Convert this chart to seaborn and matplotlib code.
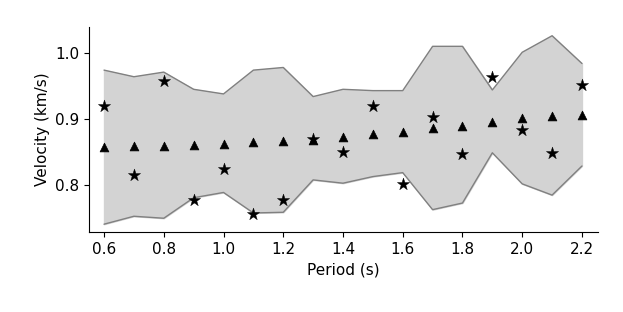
import numpy as np
import pandas as pd
import matplotlib
matplotlib.use("Agg")
import matplotlib.pyplot as plt
import seaborn as sns

period = [0.6, 0.7, 0.8, 0.9, 1.0, 1.1, 1.2, 1.3, 1.4, 1.5, 1.6, 1.7, 1.8, 1.9, 2.0, 2.1, 2.2]
upper = [0.974, 0.964, 0.971, 0.945, 0.938, 0.974, 0.978, 0.934, 0.945, 0.943, 0.943,
         1.010, 1.010, 0.944, 1.001, 1.026, 0.984]
lower = [0.741, 0.753, 0.750, 0.781, 0.789, 0.758, 0.759, 0.808, 0.803, 0.813, 0.819,
         0.763, 0.773, 0.849, 0.802, 0.785, 0.829]
mean_vel = [0.857, 0.859, 0.860, 0.861, 0.863, 0.865, 0.867, 0.869, 0.873, 0.877, 0.881,
            0.886, 0.890, 0.896, 0.901, 0.905, 0.906]
observed = [0.920, 0.815, 0.957, 0.778, 0.825, 0.756, 0.777, 0.870, 0.850, 0.920, 0.802,
            0.903, 0.847, 0.963, 0.883, 0.849, 0.952]

df = pd.DataFrame({'period': period, 'upper': upper, 'lower': lower,
                   'mean': mean_vel, 'obs': observed})

sns.set_style('ticks', {'axes.edgecolor': 'black', 'text.color': 'black',
                        'axes.labelcolor': 'black', 'xtick.color': 'black',
                        'ytick.color': 'black'})
fig = plt.figure(figsize=(6.23, 3.12), dpi=100)
ax = fig.add_axes([0.143, 0.256, 0.817, 0.657])

ax.fill_between(df['period'], df['lower'], df['upper'], color='lightgray', zorder=1)
sns.lineplot(data=df, x='period', y='upper', color='gray', lw=1, ax=ax, zorder=2)
sns.lineplot(data=df, x='period', y='lower', color='gray', lw=1, ax=ax, zorder=2)
sns.scatterplot(data=df, x='period', y='mean', marker='^', color='black', s=40,
                edgecolor='black', ax=ax, zorder=3)
sns.scatterplot(data=df, x='period', y='obs', marker='*', color='black', s=85,
                edgecolor='black', linewidth=0.3, ax=ax, zorder=4)

ax.set_xlim(0.55, 2.254)
ax.set_ylim(0.729, 1.039)
ax.set_xticks(np.arange(0.6, 2.21, 0.2))
ax.set_yticks([0.8, 0.9, 1.0])
ax.set_xlabel('Period (s)', fontsize=11)
ax.set_ylabel('Velocity (km/s)', fontsize=11)
ax.tick_params(labelsize=11)
sns.despine(ax=ax)

fig.savefig('out.png', dpi=100)
